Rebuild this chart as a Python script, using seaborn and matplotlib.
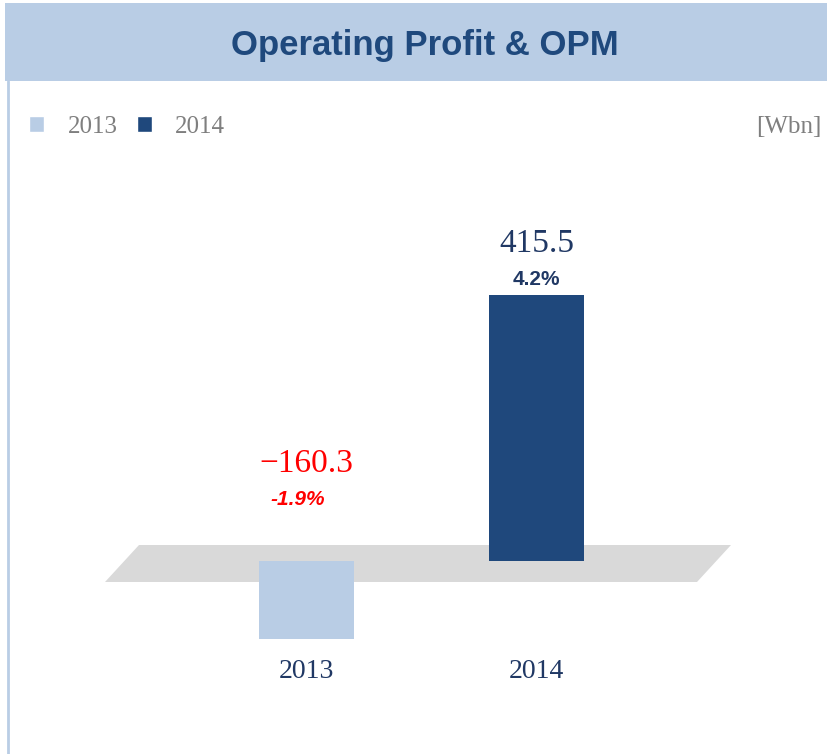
import numpy as np
import pandas as pd
import matplotlib.pyplot as plt
import seaborn as sns
from matplotlib.patches import Polygon, Rectangle
from matplotlib.lines import Line2D

# data
years = ["2013", "2014"]
profit = [-160.3, 415.5]
opm = ["-1.9%", "4.2%"]
value_labels = ["\u2212160.3", "415.5"]
bar_colors = ["#B9CDE5", "#1F487C"]

df = pd.DataFrame({"year": years, "profit": profit})

sns.set_style("white")
plt.rcParams["font.family"] = ["Liberation Serif", "DejaVu Serif"]
sans = ["Liberation Sans", "DejaVu Sans"]

W, H = 828, 754
fig = plt.figure(figsize=(W / 100, H / 100), dpi=100)

# header band and left border line
fig.patches.append(Rectangle((5 / W, 1 - 81 / H), 1, 78 / H, transform=fig.transFigure,
                             facecolor="#B9CDE5", edgecolor="none", zorder=0))
fig.lines.append(Line2D([8 / W, 8 / W], [0, 1 - 81 / H], transform=fig.transFigure,
                        color="#B9CDE5", lw=2))
fig.text(425 / W, 1 - 45 / H, "Operating Profit & OPM", ha="center", va="center",
         fontsize=25, fontweight="bold", color="#1F497D", family=sans)
fig.text(822 / W, 1 - 127 / H, "[Wbn]", ha="right", va="center", fontsize=18, color="#7F7F7F")

ax = fig.add_axes([90 / W, 1 - 645 / H, 660 / W, 445 / H])
ax.set_facecolor("none")

# negative side is drawn compressed, as in the original slide
k = 0.76
ax.set_yscale("function", functions=(lambda y: np.where(y >= 0, y, y * k),
                                     lambda y: np.where(y >= 0, y, y / k)))

sns.barplot(data=df, x="year", y="profit", hue="year", palette=bar_colors,
            dodge=False, width=0.413, saturation=1, linewidth=0, ax=ax, zorder=2)

# grey pseudo-3D floor
floor = [(139, 545), (731, 545), (697, 582), (105, 582)]
ax.add_patch(Polygon([(x / W, 1 - y / H) for x, y in floor], closed=True,
                     transform=fig.transFigure, facecolor="#D9D9D9", edgecolor="none",
                     zorder=0.5, clip_on=False))

ax.set_xlim(-0.941, 1.928)
ax.set_ylim(-131.2 / k, 563.9)

for i, v in enumerate(profit):
    base = max(v, 0)
    extra = 0 if v > 0 else 33
    col = "#203864" if v > 0 else "#FF0000"
    ax.annotate(value_labels[i], xy=(i, base), xytext=(0, 37 + extra), textcoords="offset points",
                ha="center", va="center", fontsize=24, color=col)
    ax.annotate(opm[i], xy=(i - (0.04 if v < 0 else 0), base), xytext=(0, 11 + extra),
                textcoords="offset points", ha="center", va="center", fontsize=15,
                fontweight="bold", fontstyle="italic" if v < 0 else "normal",
                color=col, family=sans)

ax.set_xlabel("")
ax.set_ylabel("")
ax.set_yticks([])
ax.tick_params(axis="x", length=0, pad=10, labelsize=20, labelcolor="#203864")
sns.despine(ax=ax, left=True, bottom=True)

handles = [Rectangle((0, 0), 1, 1, facecolor=c) for c in bar_colors]
fig.legend(handles, years, loc="center left", bbox_to_anchor=(29 / W, 1 - 127 / H),
           ncol=2, frameon=False, fontsize=18, handlelength=0.6, handleheight=0.6,
           handletextpad=0.95, columnspacing=0.75, borderpad=0, borderaxespad=0,
           labelcolor="#7F7F7F")

fig.savefig("out.png", dpi=100)
